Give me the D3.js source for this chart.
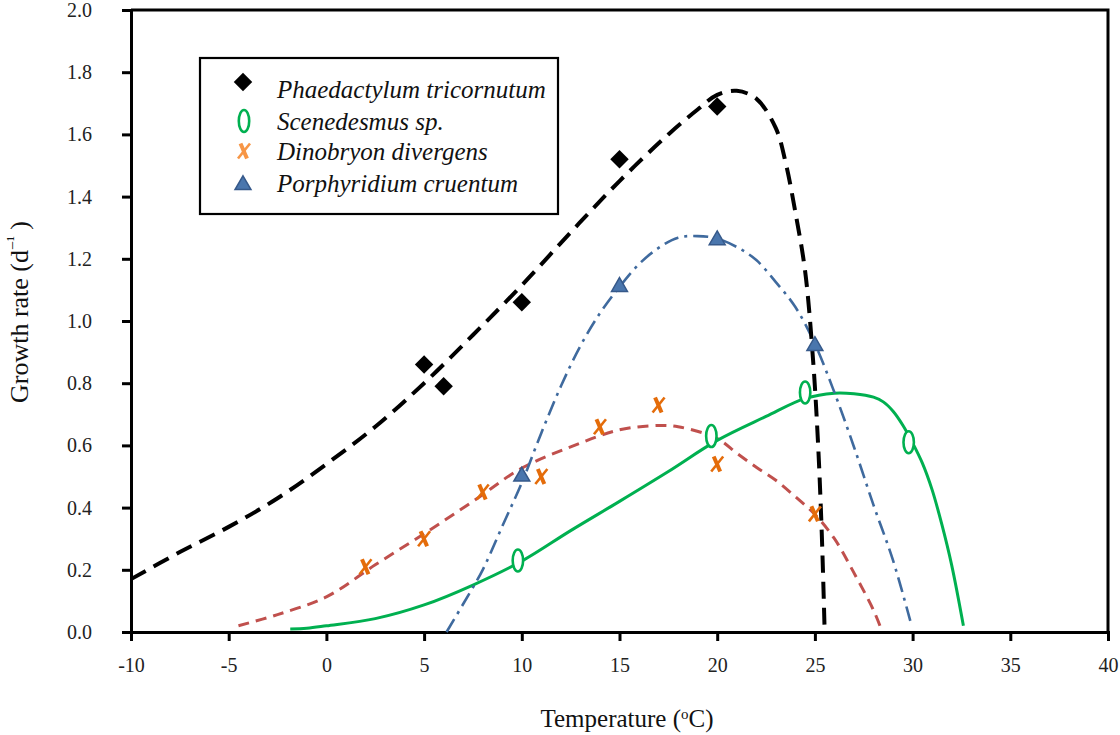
<!DOCTYPE html>
<html>
<head>
<meta charset="utf-8">
<script src="https://cdn.jsdelivr.net/npm/d3@7"></script>
<style>
  body { margin: 0; background: #fff; }
  svg { display: block; }
</style>
</head>
<body>
<div class="d3-chart"></div>
<script>
// axis ticks
const xTicks = [-10, -5, 0, 5, 10, 15, 20, 25, 30, 35, 40];
const yTicks = [0, 0.2, 0.4, 0.6, 0.8, 1.0, 1.2, 1.4, 1.6, 1.8, 2.0];

// measured points
const phaeT = [5, 6, 10, 15, 20];
const phaeRate = [0.86, 0.79, 1.06, 1.52, 1.69];
const sceneT = [9.8, 19.7, 24.5, 29.8];
const sceneRate = [0.23, 0.63, 0.77, 0.61];
const dinoT = [2, 5, 8, 11, 14, 17, 20, 25];
const dinoRate = [0.21, 0.30, 0.45, 0.50, 0.66, 0.73, 0.54, 0.38];
const porphT = [10, 15, 20, 25];
const porphRate = [0.50, 1.11, 1.26, 0.92];

// fitted curves
const phaeFitT = [-10, -7.5, -5, -2.5, 0, 2.5, 5, 7.5, 10, 12.5, 15, 17.5, 19, 20, 21, 22, 23, 23.5, 24, 24.5, 24.9, 25.15, 25.35, 25.5];
const phaeFitRate = [0.17, 0.257, 0.338, 0.43, 0.54, 0.66, 0.80, 0.955, 1.115, 1.285, 1.45, 1.60, 1.68, 1.727, 1.74, 1.715, 1.62, 1.51, 1.35, 1.16, 0.88, 0.62, 0.32, 0];
const sceneFitT = [-1.85, -1, 0, 2.5, 5, 7.5, 10, 12.5, 15, 17.5, 20, 22.5, 24.5, 26, 27, 28, 28.5, 29, 29.5, 30, 30.5, 31, 31.5, 32, 32.6];
const sceneFitRate = [0.01, 0.012, 0.02, 0.043, 0.087, 0.151, 0.228, 0.326, 0.42, 0.516, 0.616, 0.693, 0.751, 0.768, 0.766, 0.755, 0.74, 0.71, 0.665, 0.608, 0.543, 0.457, 0.345, 0.215, 0.02];
const dinoFitT = [-4.5, -2.5, 0, 2.5, 5, 7.5, 10, 12.5, 15, 17, 18, 20, 21, 22, 23, 24, 25, 26, 27, 28, 28.45];
const dinoFitRate = [0.02, 0.056, 0.113, 0.216, 0.316, 0.42, 0.527, 0.595, 0.65, 0.664, 0.66, 0.622, 0.575, 0.53, 0.488, 0.435, 0.378, 0.30, 0.19, 0.07, 0];
const porphFitT = [6.15, 7, 8, 9, 10, 11, 12, 13, 14, 15, 16, 17, 18, 19, 20, 21, 22, 23, 24, 25, 26, 27, 28, 29, 29.95];
const porphFitRate = [0, 0.09, 0.2, 0.34, 0.48, 0.64, 0.79, 0.92, 1.025, 1.11, 1.183, 1.235, 1.268, 1.273, 1.265, 1.238, 1.196, 1.125, 1.045, 0.926, 0.77, 0.595, 0.408, 0.23, 0.02];

const legendNames = ["Phaedactylum tricornutum", "Scenedesmus sp.", "Dinobryon divergens", "Porphyridium cruentum"];

const width = 1120, height = 735;
const plot = {left: 131, right: 1108, top: 10, bottom: 632};
const serif = "'Liberation Serif', 'Times New Roman', serif";

const svg = d3.select(".d3-chart").append("svg")
  .attr("width", width)
  .attr("height", height);

const x = d3.scaleLinear().domain([-10, 40]).range([plot.left, plot.right]);
const y = d3.scaleLinear().domain([0, 2]).range([plot.bottom, plot.top]);

const zip = (xs, ys) => xs.map((t, i) => [t, ys[i]]);
const line = d3.line().x(d => x(d[0])).y(d => y(d[1])).curve(d3.curveCatmullRom.alpha(0.5));

// frame: top and right edges
svg.append("path")
  .attr("d", `M${x(-10)},${y(2)}H${x(40)}V${y(0)}`)
  .attr("fill", "none").attr("stroke", "#000").attr("stroke-width", 3);

// axes
const xAxis = svg.append("g")
  .attr("transform", `translate(0,${y(0)})`)
  .call(d3.axisBottom(x).tickValues(xTicks).tickSize(9).tickPadding(17).tickFormat(d => String(d)));
const yAxis = svg.append("g")
  .attr("transform", `translate(${x(-10)},0)`)
  .call(d3.axisLeft(y).tickValues(yTicks).tickSize(9).tickPadding(30).tickFormat(d3.format(".1f")));

[xAxis, yAxis].forEach(g => {
  g.attr("font-family", serif).attr("font-size", 20);
  g.select(".domain").attr("stroke-width", 3);
  g.selectAll(".tick line").attr("stroke-width", 3);
  g.selectAll(".tick text").attr("fill", "#222");
});

// fitted lines
svg.append("path").datum(zip(dinoFitT, dinoFitRate))
  .attr("d", line).attr("fill", "none")
  .attr("stroke", "#c0504d").attr("stroke-width", 3).attr("stroke-dasharray", "11,7");
svg.append("path").datum(zip(sceneFitT, sceneFitRate))
  .attr("d", line).attr("fill", "none")
  .attr("stroke", "#00b050").attr("stroke-width", 3);
svg.append("path").datum(zip(porphFitT, porphFitRate))
  .attr("d", line).attr("fill", "none")
  .attr("stroke", "#3f6a9e").attr("stroke-width", 2.6).attr("stroke-dasharray", "15,6,3,6");
svg.append("path").datum(zip(phaeFitT, phaeFitRate))
  .attr("d", line).attr("fill", "none")
  .attr("stroke", "#000").attr("stroke-width", 4).attr("stroke-dasharray", "17,9");

// markers
const diamond = d3.symbol().type(d3.symbolSquare).size(170);
const triangle = d3.symbol().type(d3.symbolTriangle).size(110);

function drawDiamond(g, px, py) {
  g.append("path").attr("d", diamond())
    .attr("transform", `translate(${px},${py}) rotate(45)`).attr("fill", "#000");
}
function drawOval(g, px, py) {
  g.append("ellipse").attr("cx", px).attr("cy", py).attr("rx", 5.2).attr("ry", 11)
    .attr("fill", "#fff").attr("stroke", "#00b050").attr("stroke-width", 2.6);
}
function drawCross(g, px, py, color) {
  const c = g.append("g").attr("transform", `translate(${px},${py})`)
    .attr("stroke", color).attr("fill", "none");
  c.append("path").attr("d", "M-3.5,-7.5L3,7.5").attr("stroke-width", 4);
  c.append("path").attr("d", "M-6,7.5L6,-7.5").attr("stroke-width", 2.6);
}
function drawTriangle(g, px, py) {
  g.append("path").attr("d", triangle())
    .attr("transform", `translate(${px},${py})`)
    .attr("fill", "#4a76ad").attr("stroke", "#36598a").attr("stroke-width", 1.5);
}

const marks = svg.append("g");
zip(phaeT, phaeRate).forEach(d => drawDiamond(marks, x(d[0]), y(d[1])));
zip(dinoT, dinoRate).forEach(d => drawCross(marks, x(d[0]), y(d[1]), "#e46c0a"));
zip(porphT, porphRate).forEach(d => drawTriangle(marks, x(d[0]), y(d[1])));
zip(sceneT, sceneRate).forEach(d => drawOval(marks, x(d[0]), y(d[1])));

// legend
const legend = svg.append("g");
legend.append("rect")
  .attr("x", 200).attr("y", 58).attr("width", 358).attr("height", 156)
  .attr("fill", "#fff").attr("stroke", "#000").attr("stroke-width", 2.2);

const markerY = [82, 121, 151, 185];
const textY = [90, 122, 152, 184];
drawDiamond(legend, 243, markerY[0]);
drawOval(legend, 244, markerY[1]);
drawCross(legend, 244, markerY[2], "#f79646");
drawTriangle(legend, 243, markerY[3]);

legend.selectAll("text.name")
  .data(legendNames)
  .join("text")
  .attr("class", "name")
  .attr("x", 277)
  .attr("y", (d, i) => textY[i] + 8)
  .attr("font-family", serif)
  .attr("font-style", "italic")
  .attr("font-size", 25)
  .attr("fill", "#111")
  .text(d => d);

// axis titles
const xTitle = svg.append("text")
  .attr("x", 627).attr("y", 727)
  .attr("text-anchor", "middle")
  .attr("font-family", serif).attr("font-size", 25).attr("fill", "#111");
xTitle.append("tspan").text("Temperature (");
xTitle.append("tspan").attr("font-size", 15).attr("dy", -8).text("o");
xTitle.append("tspan").attr("dy", 8).text("C)");

const yTitle = svg.append("text")
  .attr("transform", "translate(28,312) rotate(-90)")
  .attr("text-anchor", "middle")
  .attr("font-family", serif).attr("font-size", 26).attr("fill", "#111");
yTitle.append("tspan").text("Growth rate (d");
yTitle.append("tspan").attr("font-size", 16).attr("dy", -10).text("\u2212\u00b9");
yTitle.append("tspan").attr("dy", 10).text(" )");
</script>
</body>
</html>
